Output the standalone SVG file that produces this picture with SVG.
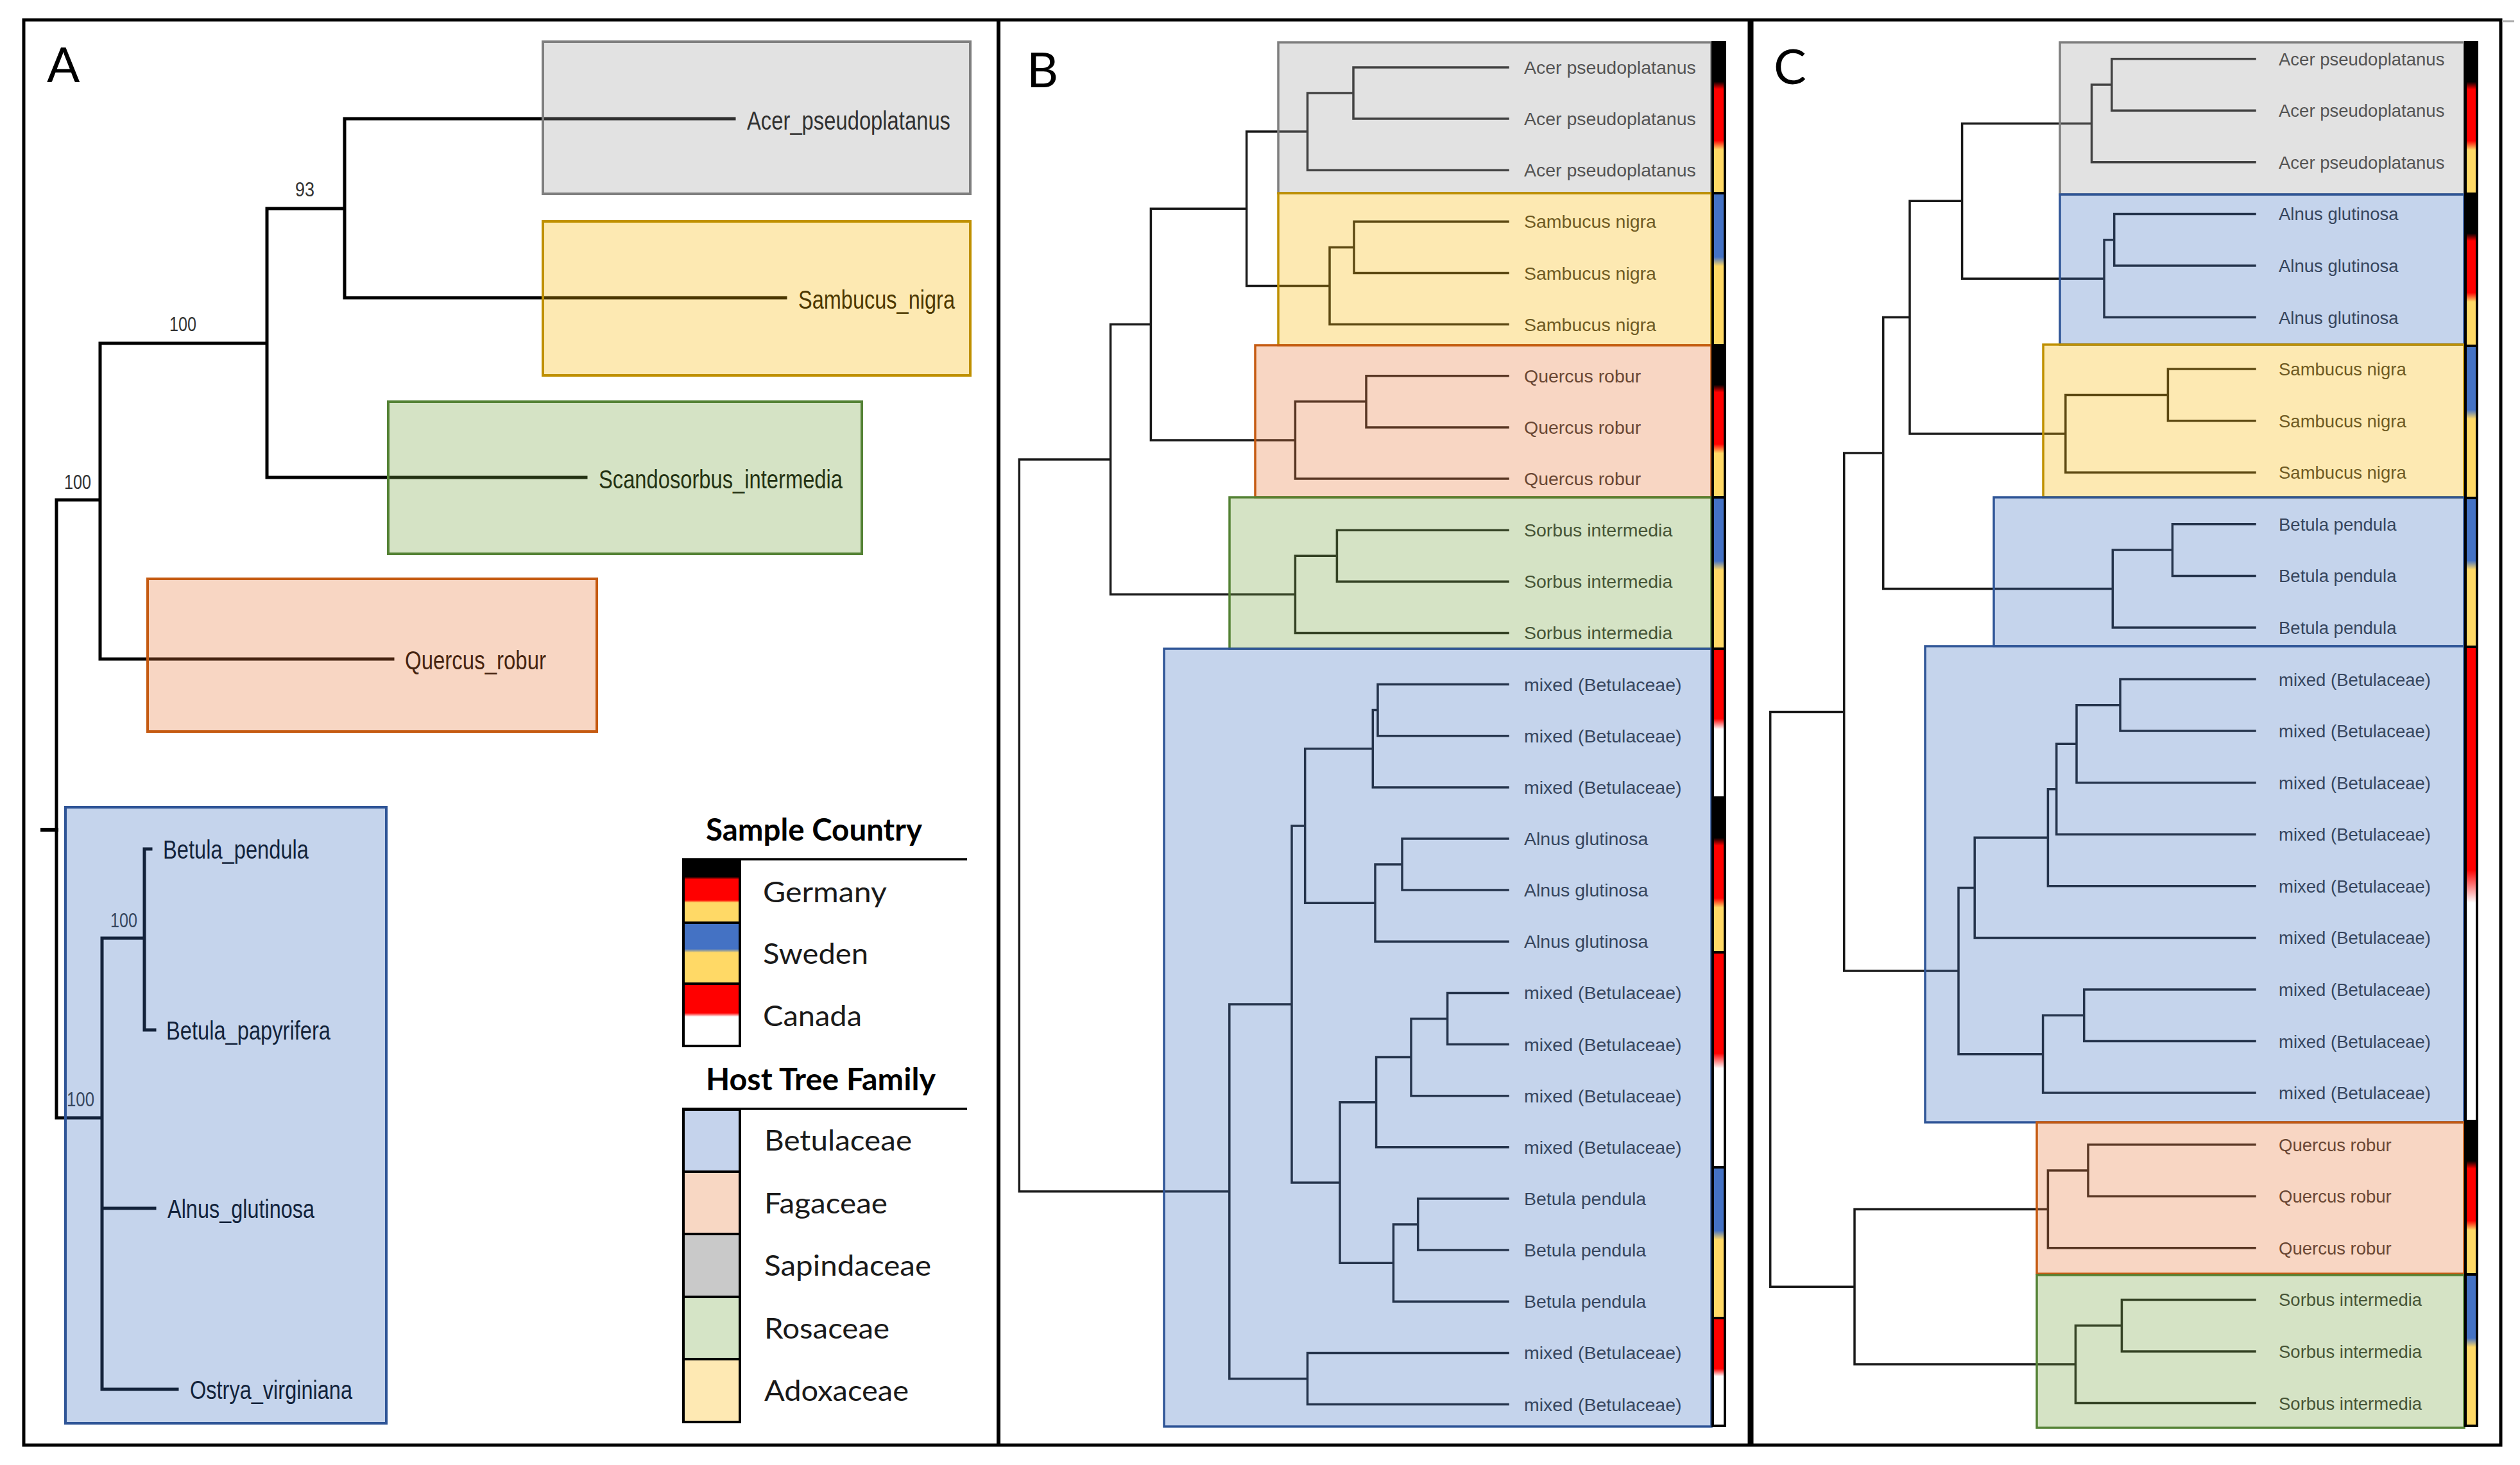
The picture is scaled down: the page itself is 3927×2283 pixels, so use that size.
<svg xmlns="http://www.w3.org/2000/svg" width="3927" height="2283" viewBox="0 0 3927 2283">
<defs>
<style>
.tA{stroke:#000;stroke-width:5;fill:none;stroke-linecap:square}
.tB{stroke:#1a1a1a;stroke-width:3.5;fill:none;stroke-linecap:square}
.lA{font-family:"Liberation Sans Narrow","Liberation Sans",Arial,sans-serif;font-size:41px;fill:#000}
.bs{font-family:"Liberation Sans Narrow","Liberation Sans",Arial,sans-serif;font-size:32px;fill:#333}
.lB{font-family:"Liberation Sans",Arial,sans-serif;font-size:28.5px;fill:#333}
.lC{font-family:"Liberation Sans",Arial,sans-serif;font-size:27.5px;fill:#333}
.bx{fill-opacity:.3;stroke-width:3.5}
.bxA{fill-opacity:.3;stroke-width:4}
.gy{fill:#9e9e9e;stroke:#7f7f7f}
.yl{fill:#f8b600;stroke:#bf9000}
.gr{fill:#73a23e;stroke:#548235}
.pc{fill:#e87637;stroke:#c55a11}
.bl{fill:#3e70c0;stroke:#2f5597}
.seg{stroke:#000;stroke-width:4}
.lg{font-family:Lato,"Open Sans",sans-serif;font-size:45px;fill:#1a1a1a}
.lgh{font-family:Lato,"Open Sans",sans-serif;font-size:47px;font-weight:bold;fill:#000}
.pn{font-family:Lato,"Open Sans",sans-serif;font-size:76px;fill:#000}
</style>
<linearGradient id="gDE" x1="0" y1="0" x2="0" y2="1"><stop offset="0" stop-color="#000"/><stop offset=".26" stop-color="#000"/><stop offset=".31" stop-color="#f00"/><stop offset=".65" stop-color="#f00"/><stop offset=".71" stop-color="#ffd966"/><stop offset="1" stop-color="#ffd966"/></linearGradient>
<linearGradient id="gSE" x1="0" y1="0" x2="0" y2="1"><stop offset="0" stop-color="#4472c4"/><stop offset=".42" stop-color="#4472c4"/><stop offset=".48" stop-color="#ffd966"/><stop offset="1" stop-color="#ffd966"/></linearGradient>
<linearGradient id="gCA" x1="0" y1="0" x2="0" y2="1"><stop offset="0" stop-color="#f00"/><stop offset=".47" stop-color="#f00"/><stop offset=".54" stop-color="#fff"/><stop offset="1" stop-color="#fff"/></linearGradient>
<linearGradient id="lDE" x1="0" y1="0" x2="0" y2="1"><stop offset="0" stop-color="#000"/><stop offset=".27" stop-color="#000"/><stop offset=".31" stop-color="#f00"/><stop offset=".64" stop-color="#f00"/><stop offset=".68" stop-color="#ffd966"/><stop offset="1" stop-color="#ffd966"/></linearGradient>
<linearGradient id="lSE" x1="0" y1="0" x2="0" y2="1"><stop offset="0" stop-color="#4472c4"/><stop offset=".43" stop-color="#4472c4"/><stop offset=".49" stop-color="#ffd966"/><stop offset="1" stop-color="#ffd966"/></linearGradient>
<linearGradient id="lCA" x1="0" y1="0" x2="0" y2="1"><stop offset="0" stop-color="#f00"/><stop offset=".47" stop-color="#f00"/><stop offset=".53" stop-color="#fff"/><stop offset="1" stop-color="#fff"/></linearGradient>
</defs>
<rect width="3927" height="2283" fill="#fff"/>

<g id="connectors">
<g id="connectors-A" class="tA">
<path d="M537,185 H1144 M537,464 H1224 M537,185 V464 M416,325 H537 M416,325 V744 M416,744 H913 M156,535 H416 M156,535 V1027 M156,1027 H612 M88,779 H156 M88,779 V1742 M88,1742 H159 M159,1462 V2165 M159,1462 H225 M225,1323 V1605 M225,1323 H235 M225,1605 H241 M159,1883 H241 M159,2165 H276"/>
<path d="M66,1293 H88" stroke-width="6"/>
</g>
<g id="connectors-B" class="tB">
<path d="M1588.3,716 V1856.7 M1588.3,716 H1730.6 M1588.3,1856.7 H1915.8
M1730.6,505.6 V926.3 M1730.6,505.6 H1793.4 M1730.6,926.3 H2018.4
M1793.4,325.3 V685.9 M1793.4,325.3 H1942.6 M1793.4,685.9 H2018.4
M1942.6,205.1 V445.5 M1942.6,205.1 H2037.5 M1942.6,445.5 H2072
M2037.5,145 V265.2 M2037.5,145 H2109 M2037.5,265.2 H2350
M2109,104.9 V185 M2109,104.9 H2350 M2109,185 H2350
M2072,385.4 V505.6 M2072,385.4 H2110 M2072,505.6 H2350
M2110,345.3 V425.5 M2110,345.3 H2350 M2110,425.5 H2350
M2018.4,625.8 V746 M2018.4,625.8 H2129 M2018.4,746 H2350
M2129,585.7 V665.9 M2129,585.7 H2350 M2129,665.9 H2350
M2018.4,866.2 V986.4 M2018.4,866.2 H2083.4 M2018.4,986.4 H2350
M2083.4,826.2 V906.3 M2083.4,826.2 H2350 M2083.4,906.3 H2350
M1915.8,1565 V2148.5 M1915.8,1565 H2013 M1915.8,2148.5 H2037.5
M2037.5,2108.4 V2188.5 M2037.5,2108.4 H2350 M2037.5,2188.5 H2350
M2013,1287 V1843 M2013,1287 H2033.7 M2013,1843 H2088
M2033.7,1166.8 V1407.2 M2033.7,1166.8 H2139.3 M2033.7,1407.2 H2143
M2139.3,1106.6 V1226.9 M2139.3,1106.6 H2147 M2139.3,1226.9 H2350
M2147,1066.6 V1146.7 M2147,1066.6 H2350 M2147,1146.7 H2350
M2143,1347 V1467.3 M2143,1347 H2185 M2143,1467.3 H2350
M2185,1307 V1387.1 M2185,1307 H2350 M2185,1387.1 H2350
M2088,1717.7 V1968.2 M2088,1717.7 H2144.6 M2088,1968.2 H2171.4
M2144.6,1647.6 V1787.8 M2144.6,1647.6 H2199 M2144.6,1787.8 H2350
M2199,1587.5 V1707.7 M2199,1587.5 H2255.6 M2199,1707.7 H2350
M2255.6,1547.4 V1627.6 M2255.6,1547.4 H2350 M2255.6,1627.6 H2350
M2171.4,1908 V2028.3 M2171.4,1908 H2209.7 M2171.4,2028.3 H2350
M2209.7,1868 V1948.1 M2209.7,1868 H2350 M2209.7,1948.1 H2350"/>
</g>
<g id="connectors-C" class="tB">
<path d="M2758.7,1109.6 V2005.3 M2758.7,1109.6 H2873.7 M2758.7,2005.3 H2890
M2873.7,706.1 V1513 M2873.7,706.1 H2934.7 M2873.7,1513 H3052
M2934.7,494.6 V917.6 M2934.7,494.6 H2976 M2934.7,917.6 H3292.3
M2976,313.3 V675.9 M2976,313.3 H3057.6 M2976,675.9 H3218.8
M3057.6,192.4 V434.2 M3057.6,192.4 H3259.5 M3057.6,434.2 H3279
M3259.5,132 V252.8 M3259.5,132 H3290.8 M3259.5,252.8 H3514
M3290.8,91.7 V172.3 M3290.8,91.7 H3514 M3290.8,172.3 H3514
M3279,373.7 V494.6 M3279,373.7 H3294.7 M3279,494.6 H3514
M3294.7,333.4 V414 M3294.7,333.4 H3514 M3294.7,414 H3514
M3218.8,615.4 V736.3 M3218.8,615.4 H3378.4 M3218.8,736.3 H3514
M3378.4,575.1 V655.7 M3378.4,575.1 H3514 M3378.4,655.7 H3514
M3292.3,857.1 V978 M3292.3,857.1 H3385.4 M3292.3,978 H3514
M3385.4,816.8 V897.4 M3385.4,816.8 H3514 M3385.4,897.4 H3514
M3052,1383.4 V1642.7 M3052,1383.4 H3077.2 M3052,1642.7 H3183.6
M3077.2,1305.3 V1461.4 M3077.2,1305.3 H3191.4 M3077.2,1461.4 H3514
M3191.4,1229.8 V1380.8 M3191.4,1229.8 H3204.7 M3191.4,1380.8 H3514
M3204.7,1159.3 V1300.3 M3204.7,1159.3 H3236 M3204.7,1300.3 H3514
M3236,1098.8 V1219.7 M3236,1098.8 H3304 M3236,1219.7 H3514
M3304,1058.5 V1139.1 M3304,1058.5 H3514 M3304,1139.1 H3514
M3183.6,1582.3 V1703.1 M3183.6,1582.3 H3247.7 M3183.6,1703.1 H3514
M3247.7,1542 V1622.5 M3247.7,1542 H3514 M3247.7,1622.5 H3514
M2890,1884.4 V2126.1 M2890,1884.4 H3191.4 M2890,2126.1 H3234.4
M3191.4,1824 V1944.8 M3191.4,1824 H3254 M3191.4,1944.8 H3514
M3254,1783.7 V1864.2 M3254,1783.7 H3514 M3254,1864.2 H3514
M3234.4,2065.7 V2186.5 M3234.4,2065.7 H3306.4 M3234.4,2186.5 H3514
M3306.4,2025.4 V2106 M3306.4,2025.4 H3514 M3306.4,2106 H3514"/>
</g>
</g>

<g id="bootstrap-A">
<text class="bs" x="460" y="306" textLength="30" lengthAdjust="spacingAndGlyphs">93</text>
<text class="bs" x="264" y="516" textLength="42" lengthAdjust="spacingAndGlyphs">100</text>
<text class="bs" x="100" y="762" textLength="42" lengthAdjust="spacingAndGlyphs">100</text>
<text class="bs" x="172" y="1445" textLength="42" lengthAdjust="spacingAndGlyphs">100</text>
<text class="bs" x="104" y="1724" textLength="43" lengthAdjust="spacingAndGlyphs">100</text>
</g>

<g id="A-acer"><text class="lA" x="1164" y="202" textLength="317" lengthAdjust="spacingAndGlyphs">Acer_pseudoplatanus</text><rect class="bxA gy" x="846" y="65" width="666" height="237"/></g>
<g id="A-sambucus"><text class="lA" x="1244" y="481" textLength="244" lengthAdjust="spacingAndGlyphs">Sambucus_nigra</text><rect class="bxA yl" x="846" y="345" width="666" height="240"/></g>
<g id="A-scandosorbus"><text class="lA" x="933" y="761" textLength="380" lengthAdjust="spacingAndGlyphs">Scandosorbus_intermedia</text><rect class="bxA gr" x="605" y="626" width="738" height="237"/></g>
<g id="A-quercus"><text class="lA" x="631" y="1043" textLength="220" lengthAdjust="spacingAndGlyphs">Quercus_robur</text><rect class="bxA pc" x="230" y="902" width="700" height="238"/></g>
<g id="A-betulaceae">
<text class="lA" x="254" y="1338" textLength="227" lengthAdjust="spacingAndGlyphs">Betula_pendula</text>
<text class="lA" x="259" y="1620" textLength="256" lengthAdjust="spacingAndGlyphs">Betula_papyrifera</text>
<text class="lA" x="261" y="1898" textLength="229" lengthAdjust="spacingAndGlyphs">Alnus_glutinosa</text>
<text class="lA" x="296" y="2180" textLength="253" lengthAdjust="spacingAndGlyphs">Ostrya_virginiana</text>
<rect class="bxA bl" x="102" y="1258" width="500" height="960"/>
</g>

<g id="B-acer" class="lB"><text x="2375" y="114.9">Acer pseudoplatanus</text><text x="2375" y="195">Acer pseudoplatanus</text><text x="2375" y="275.2">Acer pseudoplatanus</text><rect class="bx gy" x="1992" y="66" width="675" height="235"/></g>
<g id="B-sambucus" class="lB"><text x="2375" y="355.3">Sambucus nigra</text><text x="2375" y="435.5">Sambucus nigra</text><text x="2375" y="515.6">Sambucus nigra</text><rect class="bx yl" x="1992" y="301" width="675" height="237"/></g>
<g id="B-quercus" class="lB"><text x="2375" y="595.7">Quercus robur</text><text x="2375" y="675.9">Quercus robur</text><text x="2375" y="756">Quercus robur</text><rect class="bx pc" x="1956" y="538" width="711" height="237"/></g>
<g id="B-sorbus" class="lB"><text x="2375" y="836.2">Sorbus intermedia</text><text x="2375" y="916.3">Sorbus intermedia</text><text x="2375" y="996.4">Sorbus intermedia</text><rect class="bx gr" x="1916" y="775" width="751" height="236"/></g>
<g id="B-betulaceae" class="lB">
<text x="2375" y="1076.6">mixed (Betulaceae)</text><text x="2375" y="1156.7">mixed (Betulaceae)</text><text x="2375" y="1236.9">mixed (Betulaceae)</text>
<text x="2375" y="1317">Alnus glutinosa</text><text x="2375" y="1397.1">Alnus glutinosa</text><text x="2375" y="1477.3">Alnus glutinosa</text>
<text x="2375" y="1557.4">mixed (Betulaceae)</text><text x="2375" y="1637.6">mixed (Betulaceae)</text><text x="2375" y="1717.7">mixed (Betulaceae)</text><text x="2375" y="1797.8">mixed (Betulaceae)</text>
<text x="2375" y="1878">Betula pendula</text><text x="2375" y="1958.1">Betula pendula</text><text x="2375" y="2038.3">Betula pendula</text>
<text x="2375" y="2118.4">mixed (Betulaceae)</text><text x="2375" y="2198.5">mixed (Betulaceae)</text>
<rect class="bx bl" x="1814" y="1011" width="853" height="1212"/>
</g>

<g id="C-acer" class="lC"><text x="3551" y="101.7">Acer pseudoplatanus</text><text x="3551" y="182.3">Acer pseudoplatanus</text><text x="3551" y="262.8">Acer pseudoplatanus</text><rect class="bx gy" x="3210" y="66" width="630" height="237"/></g>
<g id="C-alnus" class="lC"><text x="3551" y="343.4">Alnus glutinosa</text><text x="3551" y="424">Alnus glutinosa</text><text x="3551" y="504.6">Alnus glutinosa</text><rect class="bx bl" x="3210" y="303" width="630" height="234"/></g>
<g id="C-sambucus" class="lC"><text x="3551" y="585.1">Sambucus nigra</text><text x="3551" y="665.7">Sambucus nigra</text><text x="3551" y="746.3">Sambucus nigra</text><rect class="bx yl" x="3184" y="537" width="656" height="238"/></g>
<g id="C-betula" class="lC"><text x="3551" y="826.8">Betula pendula</text><text x="3551" y="907.4">Betula pendula</text><text x="3551" y="988">Betula pendula</text><rect class="bx bl" x="3107" y="775" width="733" height="232"/></g>
<g id="C-mixed" class="lC">
<text x="3551" y="1068.5">mixed (Betulaceae)</text><text x="3551" y="1149.1">mixed (Betulaceae)</text><text x="3551" y="1229.7">mixed (Betulaceae)</text><text x="3551" y="1310.3">mixed (Betulaceae)</text><text x="3551" y="1390.8">mixed (Betulaceae)</text><text x="3551" y="1471.4">mixed (Betulaceae)</text><text x="3551" y="1552">mixed (Betulaceae)</text><text x="3551" y="1632.5">mixed (Betulaceae)</text><text x="3551" y="1713.1">mixed (Betulaceae)</text>
<rect class="bx bl" x="3000" y="1007" width="840" height="742"/>
</g>
<g id="C-quercus" class="lC"><text x="3551" y="1793.7">Quercus robur</text><text x="3551" y="1874.2">Quercus robur</text><text x="3551" y="1954.8">Quercus robur</text><rect class="bx pc" x="3174" y="1749" width="666" height="236"/></g>
<g id="C-sorbus" class="lC"><text x="3551" y="2035.4">Sorbus intermedia</text><text x="3551" y="2116">Sorbus intermedia</text><text x="3551" y="2196.5">Sorbus intermedia</text><rect class="bx gr" x="3174" y="1987" width="666" height="238"/></g>

<g id="B-country-bar" class="seg">
<rect x="2669" y="66" width="19" height="235" fill="url(#gDE)"/>
<rect x="2669" y="301" width="19" height="237" fill="url(#gSE)"/>
<rect x="2669" y="538" width="19" height="237" fill="url(#gDE)"/>
<rect x="2669" y="775" width="19" height="236" fill="url(#gSE)"/>
<rect x="2669" y="1011" width="19" height="232" fill="url(#gCA)"/>
<rect x="2669" y="1243" width="19" height="241" fill="url(#gDE)"/>
<rect x="2669" y="1484" width="19" height="335" fill="url(#gCA)"/>
<rect x="2669" y="1819" width="19" height="235" fill="url(#gSE)"/>
<rect x="2669" y="2054" width="19" height="168" fill="url(#gCA)"/>
</g>
<g id="C-country-bar" class="seg">
<rect x="3842" y="66" width="18" height="236" fill="url(#gDE)"/>
<rect x="3842" y="302" width="18" height="237" fill="url(#gDE)"/>
<rect x="3842" y="539" width="18" height="237" fill="url(#gSE)"/>
<rect x="3842" y="776" width="18" height="232" fill="url(#gSE)"/>
<rect x="3842" y="1008" width="18" height="739" fill="url(#gCA)"/>
<rect x="3842" y="1747" width="18" height="239" fill="url(#gDE)"/>
<rect x="3842" y="1986" width="18" height="236" fill="url(#gSE)"/>
</g>

<g id="legend">
<text class="lgh" x="1100" y="1310" textLength="337" lengthAdjust="spacingAndGlyphs">Sample Country</text>
<path d="M1063,1339 H1507 M1063,1728 H1507" stroke="#000" stroke-width="3.5"/>
<g class="seg">
<rect x="1065" y="1340" width="88" height="98" fill="url(#lDE)"/>
<rect x="1065" y="1438" width="88" height="95" fill="url(#lSE)"/>
<rect x="1065" y="1533" width="88" height="97" fill="url(#lCA)"/>
</g>
<text class="lg" x="1189" y="1406" textLength="193" lengthAdjust="spacingAndGlyphs">Germany</text>
<text class="lg" x="1189" y="1502" textLength="164" lengthAdjust="spacingAndGlyphs">Sweden</text>
<text class="lg" x="1189" y="1599" textLength="154" lengthAdjust="spacingAndGlyphs">Canada</text>
<text class="lgh" x="1100" y="1699" textLength="358" lengthAdjust="spacingAndGlyphs">Host Tree Family</text>
<g class="seg">
<rect x="1065" y="1729" width="88" height="97" fill="#c5d3ec"/>
<rect x="1065" y="1826" width="88" height="97" fill="#f8d7c3"/>
<rect x="1065" y="1923" width="88" height="98" fill="#c9c9c9"/>
<rect x="1065" y="2021" width="88" height="97" fill="#d5e4c6"/>
<rect x="1065" y="2118" width="88" height="98" fill="#fee9b3"/>
</g>
<text class="lg" x="1191" y="1793" textLength="230" lengthAdjust="spacingAndGlyphs">Betulaceae</text>
<text class="lg" x="1191" y="1891" textLength="192" lengthAdjust="spacingAndGlyphs">Fagaceae</text>
<text class="lg" x="1191" y="1988" textLength="260" lengthAdjust="spacingAndGlyphs">Sapindaceae</text>
<text class="lg" x="1191" y="2183" textLength="225" lengthAdjust="spacingAndGlyphs">Adoxaceae</text>
<text class="lg" x="1191" y="2086" textLength="195" lengthAdjust="spacingAndGlyphs">Rosaceae</text>
</g>

<g id="frame" fill="none" stroke="#000">
<rect x="37" y="31" width="3860" height="2221" stroke-width="5"/>
<path d="M1556,31 V2252" stroke-width="6"/>
<path d="M2728,31 V2252" stroke-width="9"/>
<path d="M3899,33 H3918" stroke="#aaa" stroke-width="3"/>
</g>
<g id="panel-labels">
<text class="pn" x="73" y="128">A</text>
<text class="pn" x="1600" y="136">B</text>
<text class="pn" x="2764" y="131">C</text>
</g>
</svg>
